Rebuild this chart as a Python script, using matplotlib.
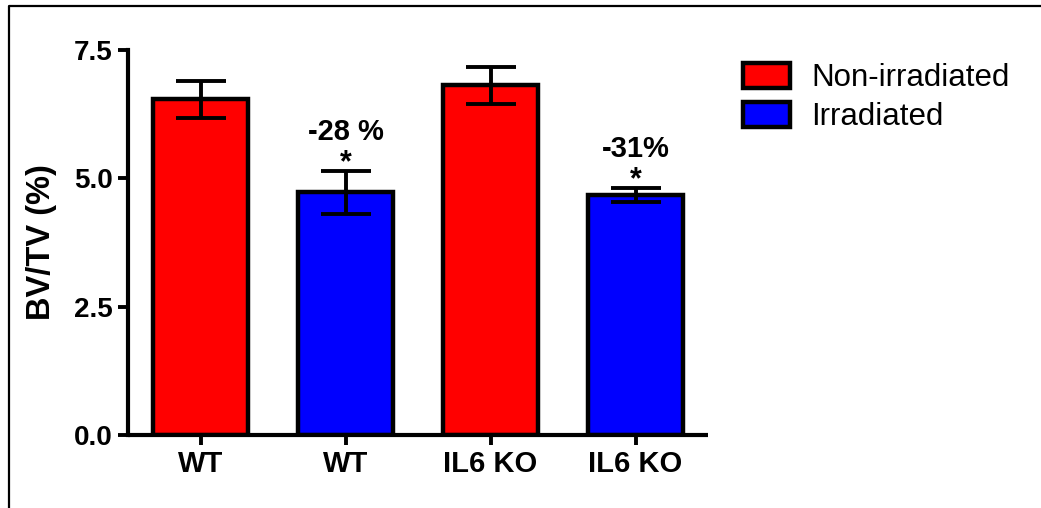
import numpy as np
import matplotlib.pyplot as plt
from matplotlib.patches import Patch
from matplotlib.lines import Line2D

plt.rcParams['font.family'] = ['Liberation Sans', 'DejaVu Sans']

# BV/TV per group, mean and SEM
groups = ['WT', 'WT', 'IL6 KO', 'IL6 KO']
means = [6.54, 4.73, 6.81, 4.68]
sems = [0.36, 0.42, 0.36, 0.14]
irradiated = [False, True, False, True]
changes = ['', '-28 %', '', '-31%']

red = '#FF0000'
blue = '#0000FF'

fig = plt.figure(figsize=(10.41, 5.08), dpi=100)
ax = fig.add_axes([128 / 1041, 1 - 435 / 508, 580 / 1041, 385 / 508])

x = np.arange(len(groups))
colors = [blue if irr else red for irr in irradiated]
ax.bar(x, means, width=0.65, color=colors, edgecolor='black', linewidth=3.2, zorder=2)
ax.errorbar(x, means, yerr=sems, fmt='none', ecolor='black', elinewidth=2.8,
            capsize=18, capthick=2.8, zorder=3)

# percent change and significance above irradiated bars
for xi, m, s, lab in zip(x, means, sems, changes):
    if not lab:
        continue
    ax.annotate('*', xy=(xi, m + s), xytext=(0, 5), textcoords='offset points',
                ha='center', va='center', fontsize=22, fontweight='bold')
    ax.annotate(lab, xy=(xi, m + s), xytext=(0, 28), textcoords='offset points',
                ha='center', va='center', fontsize=21, fontweight='bold')

ax.set_xlim(-0.5, 3.5)
ax.set_ylim(0, 7.5)
ax.set_yticks([0, 2.5, 5.0, 7.5])
ax.set_yticklabels(['0.0', '2.5', '5.0', '7.5'])
ax.set_xticks(x)
ax.set_xticklabels(groups)
ax.tick_params(axis='both', width=2.8, length=7, labelsize=20, pad=4)
ax.tick_params(axis='x', labelsize=21)
for lab in ax.get_xticklabels() + ax.get_yticklabels():
    lab.set_fontweight('bold')
ax.set_ylabel('BV/TV (%)', fontsize=23.5, fontweight='bold', labelpad=12)

for side in ['top', 'right']:
    ax.spines[side].set_visible(False)
for side in ['left', 'bottom']:
    ax.spines[side].set_linewidth(3)
ax.spines['bottom'].set_capstyle('butt')

handles = [Patch(facecolor=red, edgecolor='black', linewidth=3.2),
           Patch(facecolor=blue, edgecolor='black', linewidth=3.2)]
fig.legend(handles, ['Non-irradiated', 'Irradiated'], loc='upper left',
           bbox_to_anchor=(743 / 1041, 1 - 63 / 508), frameon=False,
           fontsize=22.5, handlelength=1.5, handleheight=0.85,
           handletextpad=0.68, labelspacing=0.27, borderpad=0, borderaxespad=0)

# outer frame (top and left edges)
fig.add_artist(Line2D([9 / 1041, 9 / 1041, 1], [0, 1 - 5.5 / 508, 1 - 5.5 / 508],
                      color='black', linewidth=1.6))

fig.savefig('out.png', dpi=100)
